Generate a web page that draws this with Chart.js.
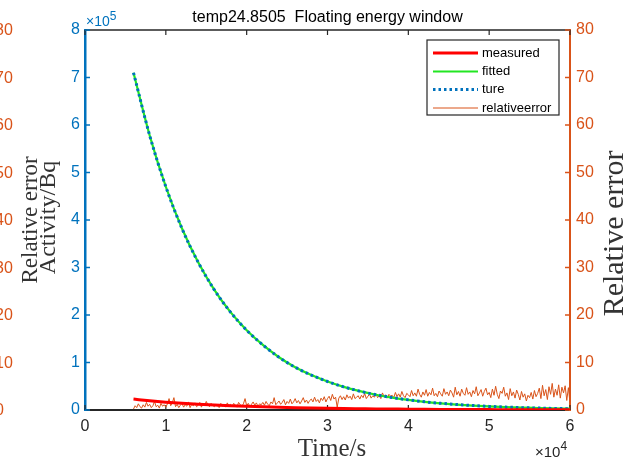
<!DOCTYPE html>
<html><head><meta charset="utf-8">
<script src="https://cdn.jsdelivr.net/npm/chart.js@4.4.0/dist/chart.umd.min.js"></script>
<style>html,body{margin:0;padding:0;background:#fff;overflow:hidden}canvas{display:block}</style>
</head><body>
<canvas id="c" width="631" height="462"></canvas>
<script>
// ---- data ----
const chartTitle = 'temp24.8505  Floating energy window';
const seriesNames = ['measured', 'fitted', 'ture', 'relativeerror'];
const curveTimes = [6000, 8000, 10000, 12000, 14000, 16000, 18000, 20000, 22000, 24000,
  26000, 28000, 30000, 32000, 34000, 36000, 38000, 40000, 42000, 44000,
  46000, 48000, 50000, 52000, 54000, 56000, 58000, 60000];
const trueActivity = [710000, 578000, 470000, 382000, 311000, 253000, 206000, 168000, 137000, 111000,
  90000, 73500, 60000, 48700, 39600, 32200, 26200, 21300, 17300, 14100,
  11500, 9400, 7600, 6200, 5000, 4100, 3300, 2700];
const fittedActivity = [710000, 578000, 470000, 382000, 311000, 253000, 206000, 168000, 137000, 111000,
  90000, 73500, 60000, 48700, 39600, 32200, 26200, 21300, 17300, 14100,
  11500, 9400, 7600, 6200, 5000, 4100, 3300, 2700];
const measuredActivity = [23000, 19500, 16500, 14000, 12000, 10300, 8900, 7700, 6600, 5700,
  4900, 4200, 3600, 3100, 2700, 2300, 2000, 1700, 1500, 1300,
  1100, 950, 820, 700, 600, 520, 450, 390];
const errTimeStart = 6000, errTimeStep = 200;
const relativeError = [
  0.2, 0.9, 0.5, 1.3, 0.7, 0.4, 1.1, 0.6, 1.6, 0.8,
  1.2, 0.5, 0.9, 1.8, 0.7, 1.0, 0.4, 1.4, 0.8, 1.1,
  0.6, 1.3, 2.4, 0.9, 1.5, 2.6, 0.7, 1.2, 0.5, 1.0,
  1.4, 0.6, 1.1, 0.8, 1.7, 0.5, 1.2, 0.9, 1.5, 0.7,
  1.0, 1.6, 0.6, 1.3, 0.9, 1.8, 1.1, 0.7, 1.4, 1.0,
  0.7, 1.2, 0.9, 0.5, 1.4, 0.8, 1.1, 0.6, 1.5, 0.9,
  1.2, 0.7, 1.4, 1.0, 0.6, 1.6, 1.1, 0.8, 1.3, 2.4,
  0.9, 1.4, 0.7, 1.2, 1.7, 1.0, 1.5, 0.8, 1.3, 1.1,
  1.6, 1.0, 1.8, 1.2, 0.9, 1.7, 1.3, 2.6, 1.1, 1.5,
  1.9, 1.2, 1.6, 2.2, 1.1, 1.8, 1.4, 2.3, 1.3, 1.7,
  2.4, 1.5, 2.0, 1.3, 1.9, 2.6, 1.6, 2.1, 1.4, 2.0,
  2.3, 1.7, 2.7, 1.8, 2.2, 1.5, 2.5, 2.0, 2.8, 1.7,
  2.4, 2.9, 2.0, 3.3, 2.3, 2.7, 0.6, 2.5, 3.0, 2.2,
  2.8, 2.1, 3.2, 2.5, 2.9, 2.2, 3.4, 2.4, 2.7, 3.0,
  2.3, 3.1, 2.6, 3.5, 2.4, 2.9, 3.3, 2.5, 3.0, 2.7,
  3.4, 2.6, 3.0, 2.4, 3.6, 2.8, 3.2, 2.5, 3.3, 2.9,
  3.1, 2.6, 3.7, 2.8, 3.4, 2.7, 3.9, 3.0, 2.6, 3.5,
  3.2, 2.8, 4.1, 3.0, 3.6, 2.9, 4.4, 3.3, 2.7, 3.8,
  3.1, 4.3, 2.9, 3.7, 3.2, 4.6, 3.0, 3.5, 2.8, 4.0,
  3.4, 2.9, 4.5, 3.3, 3.8, 3.0, 4.2, 3.6, 2.7, 4.8,
  3.2, 3.9, 2.9, 4.4, 3.5, 3.1, 4.7, 3.3, 3.8, 2.8,
  4.1, 3.4, 4.9, 3.0, 3.6, 4.3, 2.9, 3.9, 4.6, 3.2,
  3.7, 2.6, 4.4, 3.1, 5.0, 3.3, 2.4, 4.0, 3.5, 4.8,
  2.9, 3.6, 2.2, 4.5, 3.0, 3.8, 2.5, 4.2, 3.3, 2.1,
  3.9, 2.7, 3.4, 1.9, 3.1, 2.6, 3.7, 2.3, 4.1, 2.8,
  3.5, 4.6, 2.4, 5.2, 3.0, 4.3, 2.2, 4.9, 3.3, 5.6,
  2.7, 4.4, 3.1, 5.3, 2.5, 4.8, 3.6, 5.1, 2.0, 4.7,
  1.5];
const xTickStep = 10000, xMax = 60000;
const yLeftMax = 800000, yLeftStep = 100000;
const yRightMax = 80, yRightStep = 10;

// ---- styles ----
const C_BLUE = '#0072BD', C_ORANGE = '#D95319', C_RED = '#FF0000', C_GREEN = '#22E622', C_AX = '#262626';
const SANS = '"Liberation Sans", Arial, sans-serif';
const SERIF = '"Liberation Serif", "Times New Roman", serif';

const pts = (xs, ys) => ys.map((v, i) => ({x: xs[i], y: v}));
const errPts = relativeError.map((v, i) => ({x: errTimeStart + i * errTimeStep, y: v}));

const decor = {
  id: 'decor',
  beforeDatasetsDraw(chart) {
    const {ctx, chartArea: a, scales: {x, y, y2}} = chart;
    ctx.save();
    ctx.strokeStyle = C_AX; ctx.lineWidth = 1.5;
    ctx.beginPath(); ctx.moveTo(a.left, a.top); ctx.lineTo(a.right, a.top); ctx.stroke();
    ctx.lineWidth = 1.2;
    x.ticks.forEach(t => {
      const p = x.getPixelForValue(t.value);
      ctx.beginPath();
      ctx.moveTo(p, a.bottom); ctx.lineTo(p, a.bottom - 5);
      ctx.moveTo(p, a.top); ctx.lineTo(p, a.top + 5);
      ctx.stroke();
    });
    ctx.strokeStyle = C_BLUE; ctx.lineWidth = 1.5;
    y.ticks.forEach(t => {
      const p = y.getPixelForValue(t.value);
      ctx.beginPath(); ctx.moveTo(a.left, p); ctx.lineTo(a.left + 5, p); ctx.stroke();
    });
    ctx.strokeStyle = C_ORANGE;
    y2.ticks.forEach(t => {
      const p = y2.getPixelForValue(t.value);
      ctx.beginPath(); ctx.moveTo(a.right, p); ctx.lineTo(a.right - 5, p); ctx.stroke();
    });
    ctx.restore();
  },
  afterDraw(chart) {
    const {ctx, chartArea: a, scales: {x, y, y2}} = chart;
    ctx.save();
    // title
    ctx.fillStyle = '#000'; ctx.font = '16px ' + SANS; ctx.textAlign = 'center'; ctx.textBaseline = 'alphabetic';
    ctx.fillText(chartTitle, (a.left + a.right) / 2, 22);
    // off-screen duplicate orange axis labels
    ctx.fillStyle = C_ORANGE; ctx.textAlign = 'left'; ctx.textBaseline = 'middle'; ctx.font = '16px ' + SANS;
    y2.ticks.forEach(t => ctx.fillText(String(t.value), -5, y2.getPixelForValue(t.value) + 1));
    // multipliers
    ctx.textBaseline = 'alphabetic';
    ctx.fillStyle = C_BLUE; ctx.font = '14px ' + SANS;
    ctx.fillText('×10', 86, 26);
    let w = ctx.measureText('×10').width;
    ctx.font = '12px ' + SANS; ctx.fillText('5', 86 + w, 20);
    ctx.fillStyle = C_AX; ctx.font = '15px ' + SANS;
    ctx.fillText('×10', 535, 457);
    w = ctx.measureText('×10').width;
    ctx.font = '12px ' + SANS; ctx.fillText('4', 535 + w, 450);
    // axis titles
    ctx.fillStyle = '#333'; ctx.textAlign = 'center';
    ctx.font = '25px ' + SERIF;
    ctx.fillText('Time/s', 332, 456);
    const vtext = (txt, px, py, size) => {
      ctx.save(); ctx.translate(px, py); ctx.rotate(-Math.PI / 2);
      ctx.font = size + 'px ' + SERIF; ctx.fillText(txt, 0, 0); ctx.restore();
    };
    vtext('Relative error', 37, 220, 23);
    vtext('Activity/Bq', 54.5, 217.5, 24);
    vtext('Relative error', 623, 233.5, 30);
    // legend
    const lx = 427, ly = 40, lw = 132, lh = 75;
    ctx.fillStyle = '#fff'; ctx.fillRect(lx, ly, lw, lh);
    ctx.strokeStyle = C_AX; ctx.lineWidth = 1.2; ctx.strokeRect(lx, ly, lw, lh);
    const rows = [53, 71.5, 89.5, 108];
    chart.data.datasets.forEach((ds, i) => {
      const yy = rows[i];
      ctx.save();
      ctx.strokeStyle = ds.borderColor; ctx.lineWidth = ds.borderWidth;
      ctx.setLineDash(ds.borderDash || []);
      ctx.beginPath(); ctx.moveTo(433, yy); ctx.lineTo(478, yy); ctx.stroke();
      ctx.restore();
      ctx.fillStyle = '#000'; ctx.font = '13px ' + SANS; ctx.textAlign = 'left'; ctx.textBaseline = 'middle';
      ctx.fillText(ds.label, 482, yy);
    });
    ctx.restore();
  }
};

new Chart(document.getElementById('c'), {
  type: 'line',
  data: {
    datasets: [
      {label: seriesNames[0], data: pts(curveTimes, measuredActivity), borderColor: C_RED, borderWidth: 3, yAxisID: 'y', order: 1, cubicInterpolationMode: 'monotone'},
      {label: seriesNames[1], data: pts(curveTimes, fittedActivity), borderColor: C_GREEN, borderWidth: 2.2, yAxisID: 'y', order: 3, cubicInterpolationMode: 'monotone'},
      {label: seriesNames[2], data: pts(curveTimes, trueActivity), borderColor: C_BLUE, borderWidth: 3, borderDash: [2.5, 3], yAxisID: 'y', order: 2, cubicInterpolationMode: 'monotone'},
      {label: seriesNames[3], data: errPts, borderColor: C_ORANGE, borderWidth: 1, yAxisID: 'y2', order: 4}
    ]
  },
  options: {
    responsive: false, animation: false, devicePixelRatio: 1,
    layout: {padding: {top: 30, left: 0, right: 0, bottom: 0}},
    elements: {point: {radius: 0}},
    plugins: {legend: {display: false}, title: {display: false}, tooltip: {enabled: false}},
    scales: {
      x: {
        type: 'linear', min: 0, max: xMax,
        ticks: {stepSize: xTickStep, callback: v => v / xTickStep, font: {family: SANS, size: 16}, color: C_AX, padding: 7, maxRotation: 0, autoSkip: false},
        grid: {display: true, drawOnChartArea: false, drawTicks: false},
        border: {display: true, color: C_AX, width: 2},
        afterFit: s => { s.height = 52; }
      },
      y: {
        position: 'left', min: 0, max: yLeftMax,
        ticks: {stepSize: yLeftStep, callback: v => v / yLeftStep, font: {family: SANS, size: 16}, color: C_BLUE, padding: 5},
        grid: {display: true, drawOnChartArea: false, drawTicks: false},
        border: {display: true, color: C_BLUE, width: 2.5},
        afterFit: s => { s.width = 85; }
      },
      y2: {
        position: 'right', min: 0, max: yRightMax,
        ticks: {stepSize: yRightStep, font: {family: SANS, size: 16}, color: C_ORANGE, padding: 6},
        grid: {display: true, drawOnChartArea: false, drawTicks: false},
        border: {display: true, color: C_ORANGE, width: 2},
        afterFit: s => { s.width = 61; }
      }
    }
  },
  plugins: [decor]
});
</script>
</body></html>
